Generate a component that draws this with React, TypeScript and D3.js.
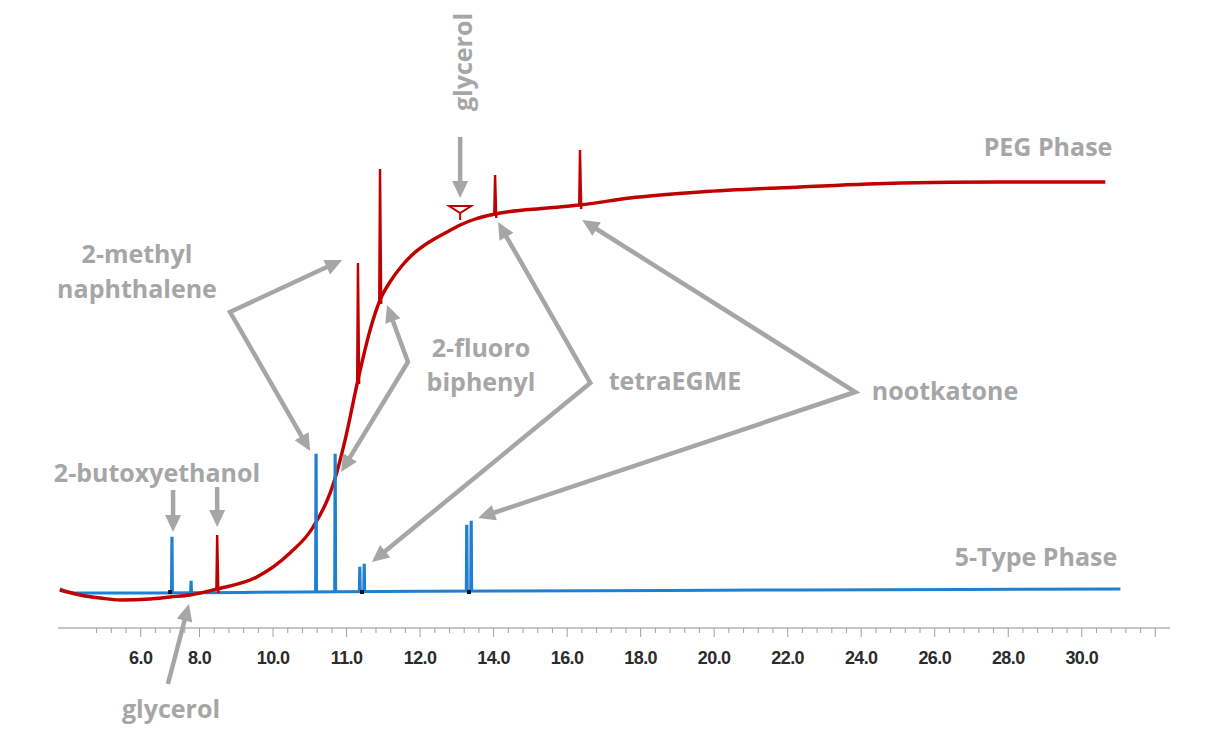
import { useEffect, useRef } from 'react';
import * as d3 from 'd3';

const WIDTH = 1215;
const HEIGHT = 749;

// x axis (retention time, min): minor ticks every 0.4, labelled ticks below
const xDomain = [4.15, 34.4];
const tickTimes = [6.4, 8, 10, 12, 14, 16, 18, 20, 22, 24, 26, 28, 30, 32];
const tickLabels = ['6.0', '8.0', '10.0', '11.0', '12.0', '14.0', '16.0', '18.0', '20.0', '22.0', '24.0', '26.0', '28.0', '30.0'];

// PEG phase (red) baseline drift
const pegTime = [4.2, 4.75, 5.3, 5.84, 6.65, 7.2, 7.74, 8.48, 9.56, 10.46, 11.09, 11.69, 11.96, 12.31, 12.64, 12.91, 13.18, 13.5, 13.81, 14.25, 14.73, 15.09, 15.5, 16.04, 17.46, 18.35, 19.71, 21.62, 24.34, 27.06, 29.78, 32.64];
const pegSignal = [10, 5, 2, 0, 1, 3, 5, 11, 23, 47, 73, 122, 160, 220, 270, 300, 318, 334, 346, 358, 368, 375, 381, 386, 392, 395, 402, 408, 413, 417, 418, 418];

// PEG phase peaks
const pegPeakTime = [8.48, 12.31, 12.91, 16.04, 18.35];
const pegPeakBase = [11, 220, 300, 386, 395];
const pegPeakTop = [65, 337, 431, 425, 450];

// glycerol on PEG (small inverted marker)
const pegMarkTime = 15.09;
const pegMarkLevel = 394;

// 5-Type phase (blue) baseline
const typeTime = [4.2, 4.61, 6.65, 10.73, 16.17, 24.34, 33.05];
const typeSignal = [11, 7, 7, 8, 9, 10, 11];

// 5-Type phase peaks
const typePeakTime = [7.25, 7.77, 11.17, 11.69, 12.36, 12.48, 15.27, 15.39];
const typePeakBase = [7, 7, 8, 8, 8, 8, 9, 9];
const typePeakTop = [62, 18, 145, 145, 32, 35, 74, 78];
const typeMarkTime = [7.2, 12.42, 15.33];

const RED = '#c00000';
const BLUE = '#1f80d2';
const GRAY = '#a6a6a6';
const FONT = '"Open Sans", sans-serif';

const App = () => {
  const svgRef = useRef<SVGSVGElement>(null);

  useEffect(() => {
    if (!svgRef.current) return;
    const svg = d3.select(svgRef.current);
    svg.selectAll('*').remove();

    const x = d3.scaleLinear().domain(xDomain).range([58, 1170]);
    const y = d3.scaleLinear().domain([0, 450]).range([600, 150]);
    const pt = (t: number, v: number): [number, number] => [x(t), y(v)];

    const g = svg.append('g');

    // axis
    const axisY = 628;
    g.append('line')
      .attr('x1', x(xDomain[0]))
      .attr('x2', x(xDomain[1]))
      .attr('y1', axisY)
      .attr('y2', axisY)
      .attr('stroke', '#b3b3b3')
      .attr('stroke-width', 1.5);

    const minorTicks = d3.range(5.2, 34.01, 0.4);
    g.selectAll('.minor')
      .data(minorTicks)
      .enter()
      .append('line')
      .attr('x1', d => x(d))
      .attr('x2', d => x(d))
      .attr('y1', axisY)
      .attr('y2', d => (tickTimes.some(t => Math.abs(t - d) < 0.01) || (d > 9.9 && Math.abs(d % 2) < 0.01) ? axisY + 9 : axisY + 5))
      .attr('stroke', '#a0a0a0')
      .attr('stroke-width', 1);

    g.selectAll('.tick-label')
      .data(tickTimes)
      .enter()
      .append('text')
      .attr('x', d => x(d))
      .attr('y', axisY + 36)
      .attr('text-anchor', 'middle')
      .style('font-family', '"Liberation Sans", Arial, sans-serif')
      .style('font-weight', 700)
      .style('font-size', '18px')
      .style('letter-spacing', '-0.6px')
      .style('fill', '#2b2b2b')
      .text((d, i) => tickLabels[i]);

    // 5-Type baseline
    const typeLine = d3.line<number>()
      .x((d, i) => x(typeTime[i]))
      .y(d => y(d))
      .curve(d3.curveMonotoneX);
    g.append('path')
      .attr('d', typeLine(typeSignal))
      .attr('fill', 'none')
      .attr('stroke', BLUE)
      .attr('stroke-width', 3);

    // PEG baseline
    const pegLine = d3.line<number>()
      .x((d, i) => x(pegTime[i]))
      .y(d => y(d))
      .curve(d3.curveMonotoneX);
    g.append('path')
      .attr('d', pegLine(pegSignal))
      .attr('fill', 'none')
      .attr('stroke', RED)
      .attr('stroke-width', 3.4)
      .attr('stroke-linejoin', 'round');

    // PEG peaks
    pegPeakTime.forEach((t, i) => {
      const px = x(t);
      g.append('path')
        .attr('d', `M${px - 0.8},${y(pegPeakBase[i])}L${px},${y(pegPeakTop[i])}L${px + 1.2},${y(pegPeakBase[i] - 4)}`)
        .attr('fill', 'none')
        .attr('stroke', RED)
        .attr('stroke-width', 2.4);
    });

    // glycerol marker on PEG
    const mx = x(pegMarkTime);
    const my = y(pegMarkLevel);
    g.append('path')
      .attr('d', `M${mx - 11},${my}L${mx + 11},${my}L${mx},${my + 7}Z M${mx},${my + 7}L${mx},${my + 14}`)
      .attr('fill', 'none')
      .attr('stroke', RED)
      .attr('stroke-width', 2);

    // 5-Type peaks
    typePeakTime.forEach((t, i) => {
      const px = x(t);
      g.append('path')
        .attr('d', `M${px - 0.8},${y(typePeakBase[i])}L${px - 0.4},${y(typePeakTop[i])}L${px + 0.4},${y(typePeakTop[i])}L${px + 0.8},${y(typePeakBase[i])}`)
        .attr('fill', 'none')
        .attr('stroke', BLUE)
        .attr('stroke-width', 2.4);
    });

    g.selectAll('.mark')
      .data(typeMarkTime)
      .enter()
      .append('rect')
      .attr('x', d => x(d) - 2)
      .attr('y', y(8) - 2)
      .attr('width', 4)
      .attr('height', 4)
      .attr('fill', '#111');

    // annotations
    const ann = g.append('g');
    const HL = 17;
    const HW = 8;
    const head = (tip: [number, number], from: [number, number]) => {
      const dx = tip[0] - from[0];
      const dy = tip[1] - from[1];
      const len = Math.hypot(dx, dy);
      const ux = dx / len;
      const uy = dy / len;
      const bx = tip[0] - ux * HL;
      const by = tip[1] - uy * HL;
      ann.append('path')
        .attr('d', `M${tip[0]},${tip[1]}L${bx - uy * HW},${by + ux * HW}L${bx + uy * HW},${by - ux * HW}Z`)
        .attr('fill', GRAY);
      return [bx + ux * 2, by + uy * 2] as [number, number];
    };
    const arrow = (pts: [number, number][], both: boolean) => {
      const p = pts.map(d => [...d] as [number, number]);
      const n = p.length;
      p[n - 1] = head(pts[n - 1], pts[n - 2]);
      if (both) p[0] = head(pts[0], pts[1]);
      ann.append('path')
        .attr('d', d3.line()(p))
        .attr('fill', 'none')
        .attr('stroke', GRAY)
        .attr('stroke-width', 4.5)
        .attr('stroke-linejoin', 'miter');
    };

    arrow([pt(11.88, 340), pt(8.83, 288), pt(11.01, 149)], true);
    arrow([pt(13.1, 295), pt(13.67, 238), pt(11.85, 128)], true);
    arrow([pt(16.12, 378), pt(18.63, 217), pt(12.69, 38)], true);
    arrow([pt(18.41, 380), pt(25.84, 208), pt(15.58, 82)], true);
    arrow([pt(7.28, 110), pt(7.28, 68)], false);
    arrow([pt(8.48, 113), pt(8.48, 73)], false);
    arrow([pt(15.09, 463), pt(15.09, 402)], false);
    arrow([pt(7.14, -84), pt(7.71, -4)], false);

    const label = (tx: number, ty: number, s: string) =>
      ann.append('text')
        .attr('x', tx)
        .attr('y', ty)
        .attr('text-anchor', 'middle')
        .style('font-family', FONT)
        .style('font-weight', 700)
        .style('font-size', '25px')
        .style('fill', GRAY)
        .text(s);

    label(1048, 156, 'PEG Phase');
    label(1036, 566, '5-Type Phase');
    label(137, 263, '2-methyl');
    label(137, 298, 'naphthalene');
    label(481, 357, '2-fluoro');
    label(481, 391, 'biphenyl');
    label(675, 390, 'tetraEGME');
    label(945, 400, 'nootkatone');
    label(157, 482, '2-butoxyethanol');
    label(171, 718, 'glycerol');
    label(0, 0, 'glycerol').attr('transform', 'translate(472,62) rotate(-90)');
  }, []);

  return (
    <svg
      ref={svgRef}
      width={WIDTH}
      height={HEIGHT}
      style={{ position: 'absolute', left: 0, top: 0, background: '#fff' }}
    />
  );
};

export default App;
